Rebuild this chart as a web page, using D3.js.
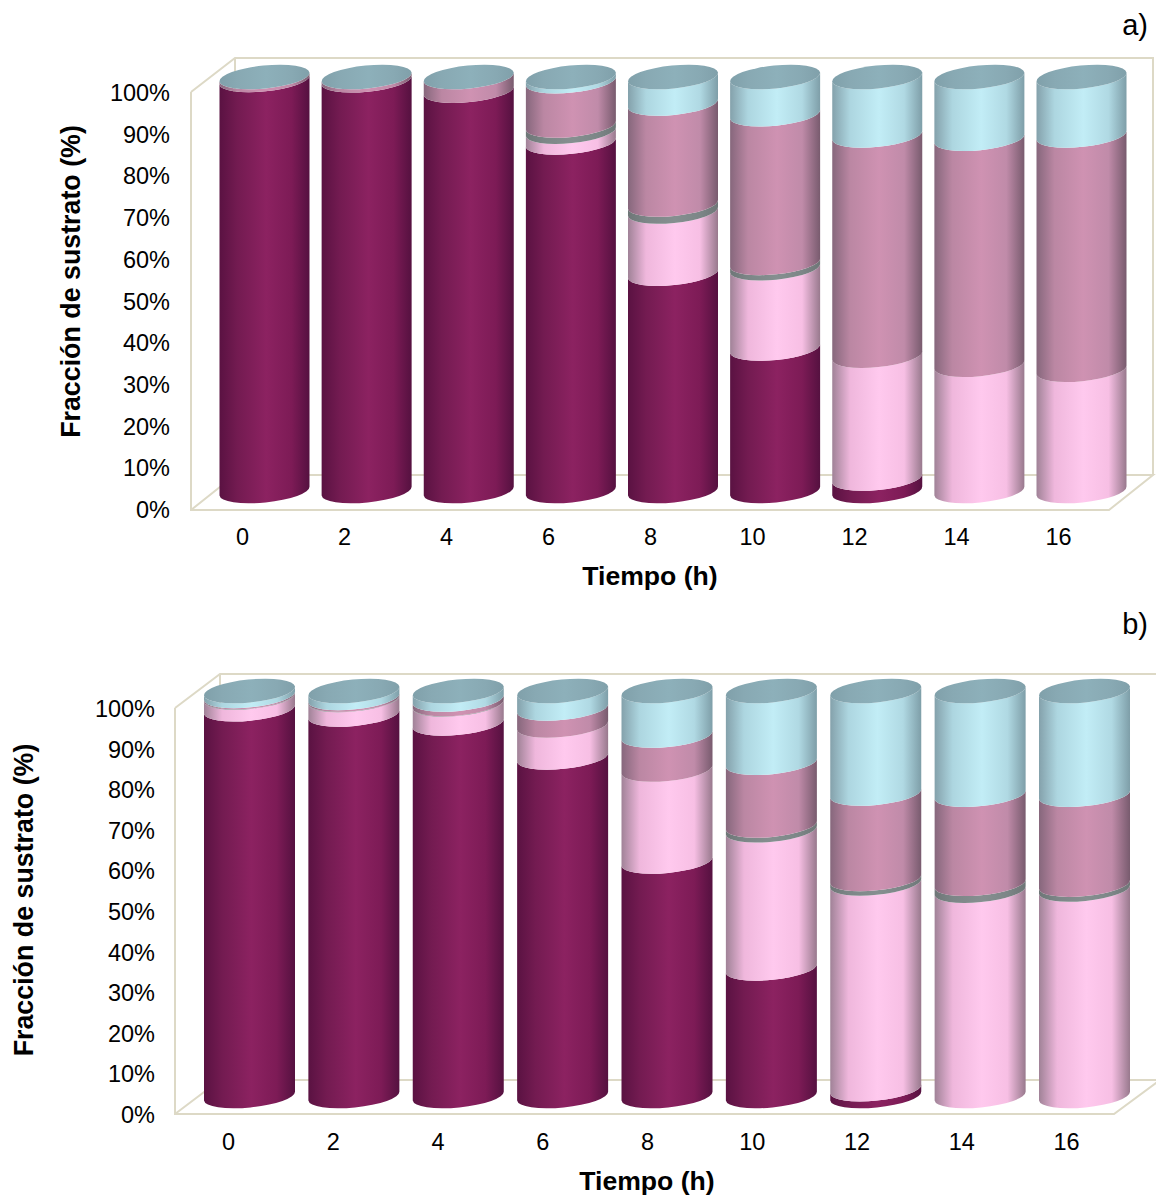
<!DOCTYPE html>
<html><head><meta charset="utf-8">
<script src="https://cdnjs.cloudflare.com/ajax/libs/d3/7.8.5/d3.min.js"></script>
<style>html,body{margin:0;padding:0;background:#fff}svg{display:block}text{font-family:"Liberation Sans",Arial,sans-serif;fill:#000}</style>
</head><body><svg id="c" width="1156" height="1198"></svg>
<script>
const categories = ["0","2","4","6","8","10","12","14","16"];
const tickValues = [0,10,20,30,40,50,60,70,80,90,100];
const seriesKeys = ["dark","pale","gray","mauve","blue"];
// Panel a
const aDark  = [99.3,99.2,96.7,84.2,52.5,34.4,3.0,0,0];
const aPale  = [0,0,0,2.6,15.0,19.4,29.7,30.5,29.3];
const aGray  = [0,0,0,1.5,1.7,1.3,0,0,0];
const aMauve = [0.7,0.8,3.3,10.7,24.4,35.9,53.2,54.6,56.6];
const aBlue  = [0,0,0,1.0,6.4,9.0,14.1,14.9,14.1];
// Panel b
const bDark  = [95.5,94.2,92.0,83.6,57.9,31.5,1.7,0,0];
const bPale  = [2.9,3.6,4.7,7.9,22.7,34.1,50.8,50.7,51.0];
const bGray  = [0.1,0.1,0.1,0,0,1.2,1.1,1.7,1.2];
const bMauve = [0.3,0.4,1.1,4.2,8.4,15.5,21.1,22.0,22.2];
const bBlue  = [1.2,1.7,2.1,4.3,11.0,17.7,25.3,25.6,25.6];

const svg = d3.select("#c");
const defs = svg.append("defs");
const palettes = {
  dark:  ["#5a1242","#731b51","#8c2261","#7d1b56","#551140"],
  pale:  ["#a08297","#efb7dc","#ffc9ee","#f7bfe4","#98798d"],
  gray:  ["#6e7677","#7c8687","#868f90","#7c8687","#6e7677"],
  mauve: ["#86677c","#bb87a3","#cf92b2","#c08ba9","#785b6e"],
  blue:  ["#84a1ab","#add6e0","#c2edf6","#b0d9e3","#7e9ea8"],
  cap:   ["#80a0aa","#88a9b3","#8db0ba","#88a9b3","#80a0aa"]
};
Object.entries(palettes).forEach(([k,cols])=>{
  const g = defs.append("linearGradient").attr("id","g-"+k).attr("x1",0).attr("x2",1).attr("y1",0).attr("y2",0);
  [0,0.2,0.52,0.8,1].forEach((o,i)=>g.append("stop").attr("offset",o).attr("stop-color",cols[i]));
});

function panel(cfg, columns){
  const rows = categories.map((c,i)=>{
    const r={cat:c}; seriesKeys.forEach((k,j)=>r[k]=columns[j][i]); return r;
  });
  const stacked = d3.stack().keys(seriesKeys)(rows);
  const g = svg.append("g");
  const w = cfg.wall;
  const wallColor="#ddd9c6";
  const line = pts=>g.append("path").attr("d",d3.line()(pts)).attr("fill","none").attr("stroke",wallColor).attr("stroke-width",2);
  line([[w.fx0,w.fyTop],[w.fx0,w.fyBot],[w.fx1,w.fyBot],[w.bx1,w.byBot],[w.bx0,w.byBot],[w.fx0,w.fyBot]]);
  line([[w.fx0,w.fyTop],[w.bx0,w.byTop],[w.bx1,w.byTop],[w.bx1,w.byBot]]);
  line([[w.bx0,w.byTop],[w.bx0,w.byBot]]);
  const xFront = d3.scalePoint().domain(categories).range(cfg.labelX);
  const xBar = d3.scalePoint().domain(categories).range(cfg.barX);
  const yFront = d3.scaleLinear().domain([0,100]).range(cfg.tickY);
  const yBar = d3.scaleLinear().domain([0,100]).range(cfg.barY);
  const rx=cfg.rx, ry=cfg.ry, dy=cfg.dy;
  const R=Math.hypot(rx,dy), rot=-Math.atan2(dy,rx)*180/Math.PI;
  const seg=(cx,y0,y1)=>`M${cx-rx},${y0+dy}A${R},${ry} ${rot} 0 0 ${cx+rx},${y0-dy}L${cx+rx},${y1-dy}A${R},${ry} ${rot} 0 1 ${cx-rx},${y1+dy}Z`;
  stacked.forEach(s=>{
    g.append("g").selectAll("path").data(s.filter(d=>d[1]>d[0])).join("path")
      .attr("d",d=>seg(xBar(d.data.cat),yBar(d[0]),yBar(d[1])))
      .attr("fill",`url(#g-${s.key})`);
  });
  g.append("g").selectAll("path").data(rows).join("path")
    .attr("d",d=>{const cx=xBar(d.cat),y=yBar(100);
      return `M${cx-rx},${y+dy}A${R},${ry} ${rot} 1 0 ${cx+rx},${y-dy}A${R},${ry} ${rot} 1 0 ${cx-rx},${y+dy}Z`;})
    .attr("fill","url(#g-cap)");
  const fnt='"Liberation Sans",Arial,sans-serif';
  const ax = g.append("g").attr("transform",`translate(${cfg.tickRight},0)`)
    .call(d3.axisLeft(yFront).tickValues(tickValues).tickFormat(v=>v+"%").tickSize(0).tickPadding(0));
  ax.select(".domain").remove();
  ax.selectAll("text").style("font-family",fnt).style("font-size","23.5px").attr("fill","#000");
  const ax2 = g.append("g").attr("transform",`translate(0,${cfg.catY})`)
    .call(d3.axisBottom(xFront).tickSize(0).tickPadding(0));
  ax2.select(".domain").remove();
  ax2.selectAll("text").style("font-family",fnt).style("font-size","23.5px").attr("fill","#000");
  g.append("text").attr("x",cfg.xTitle[0]).attr("y",cfg.xTitle[1]).attr("text-anchor","middle")
    .style("font-size","26.6px").style("font-weight","bold").text("Tiempo (h)");
  g.append("text").attr("transform",`translate(${cfg.yTitle[0]},${cfg.yTitle[1]}) rotate(-90)`).attr("text-anchor","middle")
    .style("font-size","26.8px").style("font-weight","bold").text("Fracción de sustrato (%)");
  g.append("text").attr("x",1148).attr("y",cfg.tagY).attr("text-anchor","end")
    .style("font-size","29px").text(cfg.tag);
}

panel({tag:"a)",tagY:35,
  wall:{fx0:191,fx1:1109,fyTop:92,fyBot:510,bx0:235,bx1:1153,byTop:58,byBot:475},
  labelX:[242,1058],barX:[264.5,1081.5],tickY:[510,93],barY:[491,77],rx:45,ry:11.5,dy:4.5,
  tickRight:170,catY:528,xTitle:[650,585],yTitle:[80,281.5]
},[aDark,aPale,aGray,aMauve,aBlue]);

panel({tag:"b)",tagY:634,
  wall:{fx0:175,fx1:1114,fyTop:708,fyBot:1114,bx0:220,bx1:1160,byTop:674,byBot:1080},
  labelX:[228,1066],barX:[249.5,1084.5],tickY:[1115,709],barY:[1096,691],rx:45.5,ry:11.5,dy:4.5,
  tickRight:155,catY:1133,xTitle:[647,1190],yTitle:[33,900]
},[bDark,bPale,bGray,bMauve,bBlue]);
</script></body></html>
